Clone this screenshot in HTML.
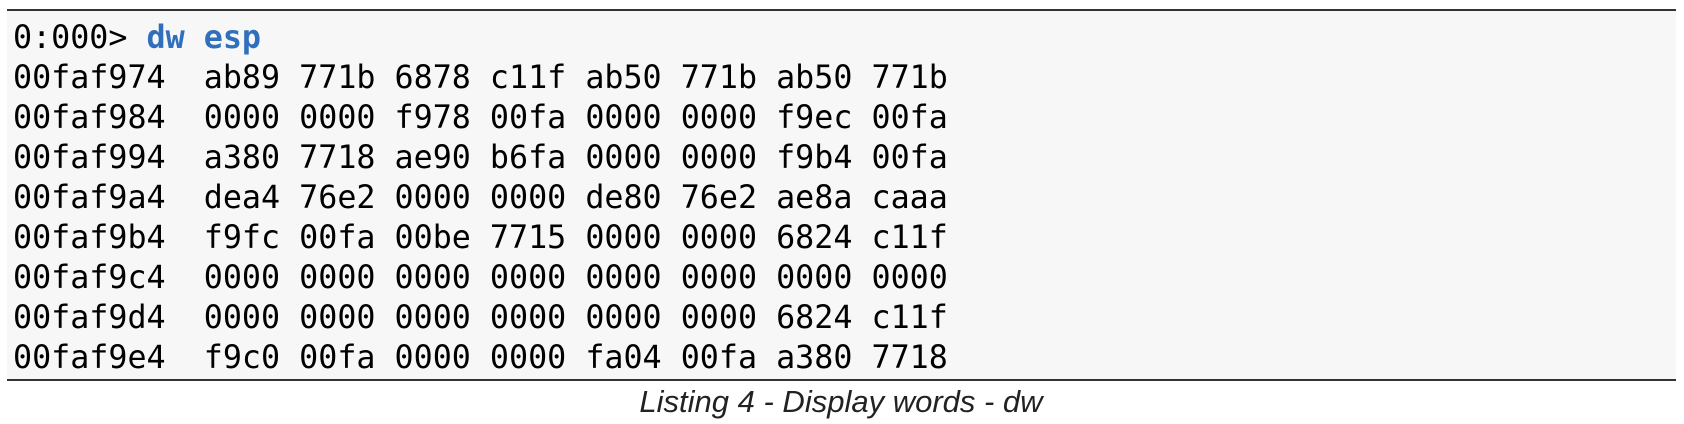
<!DOCTYPE html>
<html><head><style>
html,body{margin:0;padding:0;background:#fff;width:1684px;height:424px;overflow:hidden}
.box{position:absolute;left:7px;top:9px;width:1669px;height:368px;background:#f7f7f7;border-top:2px solid #333;border-bottom:2px solid #333}
pre{position:absolute;left:13px;top:18px;margin:0;font-family:"DejaVu Sans Mono","Liberation Mono",monospace;font-size:31.7px;line-height:40px;color:#000}
b{color:#2f6fbd}
.cap{position:absolute;left:0;width:1682px;top:384px;text-align:center;font-family:"Liberation Sans",sans-serif;font-style:italic;font-size:31px;color:#222}
</style></head><body>
<div class="box"></div>
<pre>0:000&gt; <b>dw esp</b>
00faf974  ab89 771b 6878 c11f ab50 771b ab50 771b
00faf984  0000 0000 f978 00fa 0000 0000 f9ec 00fa
00faf994  a380 7718 ae90 b6fa 0000 0000 f9b4 00fa
00faf9a4  dea4 76e2 0000 0000 de80 76e2 ae8a caaa
00faf9b4  f9fc 00fa 00be 7715 0000 0000 6824 c11f
00faf9c4  0000 0000 0000 0000 0000 0000 0000 0000
00faf9d4  0000 0000 0000 0000 0000 0000 6824 c11f
00faf9e4  f9c0 00fa 0000 0000 fa04 00fa a380 7718</pre>
<div class="cap">Listing 4 - Display words - dw</div>
</body></html>
